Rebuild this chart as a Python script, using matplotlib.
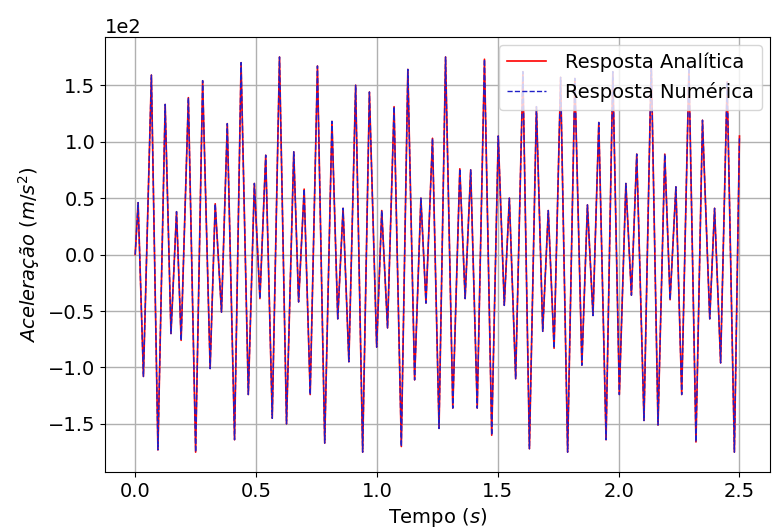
import numpy as np
import matplotlib
matplotlib.use('Agg')
import matplotlib.pyplot as plt

# extrema (time in s, acceleration in m/s^2)
tempo = [0.000, 0.012, 0.034, 0.067, 0.094, 0.124, 0.148, 0.171, 0.190, 0.220,
         0.250, 0.279, 0.310, 0.331, 0.357, 0.381, 0.411, 0.438, 0.468, 0.493,
         0.516, 0.540, 0.567, 0.597, 0.626, 0.656, 0.676, 0.699, 0.724, 0.754,
         0.784, 0.814, 0.838, 0.860, 0.884, 0.912, 0.941, 0.969, 0.999, 1.020,
         1.044, 1.071, 1.101, 1.128, 1.156, 1.182, 1.203, 1.230, 1.257, 1.284,
         1.314, 1.343, 1.365, 1.388, 1.415, 1.445, 1.475, 1.502, 1.527, 1.548,
         1.574, 1.604, 1.631, 1.660, 1.686, 1.709, 1.733, 1.760, 1.789, 1.819,
         1.848, 1.871, 1.894, 1.918, 1.948, 1.976, 2.003, 2.030, 2.053, 2.075,
         2.105, 2.135, 2.163, 2.191, 2.213, 2.237, 2.261, 2.291, 2.320, 2.347,
         2.377, 2.397, 2.422, 2.449, 2.479, 2.500]

acc_analitica = [0, 46, -108, 159, -173, 133, -70, 38, -76, 139,
                 -175, 154, -101, 45, -51, 116, -164, 170, -124, 63,
                 -39, 88, -145, 175, -150, 91, -42, 58, -124, 167,
                 -167, 118, -57, 41, -95, 150, -175, 144, -82, 39,
                 -65, 131, -170, 164, -111, 50, -43, 103, -154, 175,
                 -136, 76, -39, 75, -136, 173, -160, 105, -45, 50,
                 -110, 162, -172, 131, -68, 39, -83, 157, -175, 156,
                 -98, 44, -54, 117, -164, 162, -124, 63, -36, 89,
                 -147, 172, -151, 89, -40, 60, -124, 166, -166, 119,
                 -57, 41, -96, 153, -175, 105]

# numerical solution overlaps the analytical one in the picture
acc_numerica = list(acc_analitica)

fig, ax = plt.subplots(figsize=(7.72, 5.32), dpi=100)
fig.subplots_adjust(left=0.136, right=0.997, top=0.930, bottom=0.113)

ax.plot(tempo, acc_analitica, 'r-', lw=1.2, label='Resposta Analítica')
ax.plot(tempo, acc_numerica, '--', color='#2020c8', lw=1.0,
        label='Resposta Numérica')

ax.ticklabel_format(axis='y', style='sci', scilimits=(0, 0))
ax.yaxis.get_offset_text().set_fontsize(14)
ax.tick_params(labelsize=14)
ax.grid(True, color='#b0b0b0', lw=1.0)

ax.set_xlabel(r'Tempo ($s$)', fontsize=14)
ax.set_ylabel(r'$Aceleração\ (m/s^2)$', fontsize=14)
ax.legend(loc='upper right', fontsize=14, framealpha=0.8,
          borderaxespad=0.4, handletextpad=1.0)

fig.savefig('out.png', dpi=100)
